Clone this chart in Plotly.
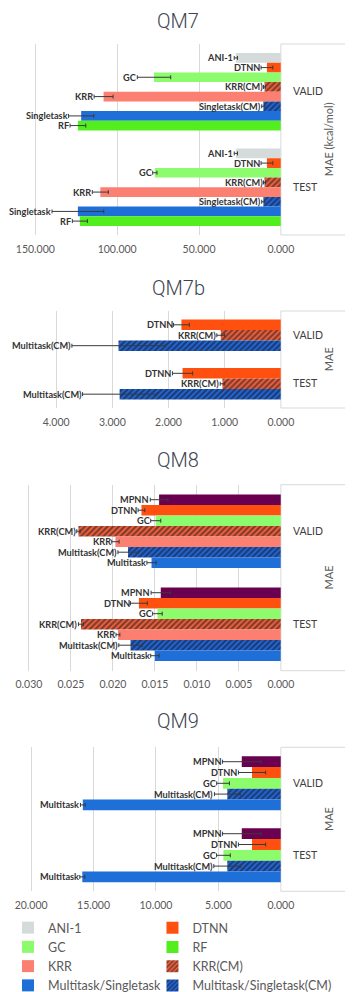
import plotly.graph_objects as go

groups = ["VALID", "TEST"]

# ---------------- data ----------------
qm7_methods = ["ANI-1", "DTNN", "GC", "KRR(CM)", "KRR", "Singletask(CM)", "Singletask", "RF"]
qm7_valid = [27.5, 8.5, 77.5, 10.0, 108.3, 10.7, 122.0, 124.0]
qm7_valid_err = [1.0, 3.6, 10.2, 0.6, 5.8, 1.0, 7.7, 4.8]
qm7_test = [27.5, 8.5, 77.0, 10.0, 110.3, 10.7, 124.0, 122.8]
qm7_test_err = [1.0, 3.6, 1.3, 0.6, 4.9, 1.0, 15.8, 4.6]

qm7b_methods = ["DTNN", "KRR(CM)", "Multitask(CM)"]
qm7b_valid = [1.77, 1.07, 2.89]
qm7b_valid_err = [0.14, 0.07, 0.83]
qm7b_test = [1.75, 1.04, 2.87]
qm7b_test_err = [0.18, 0.04, 0.66]

qm8_methods = ["MPNN", "DTNN", "GC", "KRR(CM)", "KRR", "Multitask(CM)", "Multitask"]
qm8_valid = [0.0145, 0.0166, 0.0149, 0.0241, 0.0197, 0.0182, 0.0154]
qm8_valid_err = [0.00105, 0.0004, 0.0006, 0.0002, 0.00044, 0.0012, 0.00055]
qm8_test = [0.0143, 0.0169, 0.0147, 0.0238, 0.0194, 0.0179, 0.0150]
qm8_test_err = [0.00115, 0.0010, 0.00057, 0.0003, 0.00023, 0.0014, 0.0005]

qm9_methods = ["MPNN", "DTNN", "GC", "Multitask(CM)", "Multitask"]
qm9_valid = [3.13, 2.31, 4.63, 4.29, 15.86]
qm9_valid_err = [1.54, 1.09, 0.51, 1.03, 0.19]
qm9_test = [3.13, 2.31, 4.60, 4.29, 15.90]
qm9_test_err = [1.54, 1.09, 0.55, 1.08, 0.20]

x_tick_vals = {
    "QM7": [0, 50, 100, 150],
    "QM7b": [0, 1, 2, 3, 4],
    "QM8": [0, 0.005, 0.01, 0.015, 0.02, 0.025, 0.03],
    "QM9": [0, 5, 10, 15, 20],
}

# legend, laid out in two columns (left column, right column)
legend_left = ["ANI-1", "GC", "KRR", "Multitask/Singletask"]
legend_right = ["DTNN", "RF", "KRR(CM)", "Multitask/Singletask(CM)"]

# ---------------- styles ----------------
W, H = 353, 992
PLOT_RIGHT = 283.3 / W

style = {
    "ANI-1": ("#d5dbdb", None),
    "DTNN": ("#ff5010", None),
    "GC": ("#8cfb6c", None),
    "RF": ("#52ee1e", None),
    "KRR": ("#fb8072", None),
    "KRR(CM)": ("#f4643e", "/"),
    "Singletask": ("#1f6fd8", None),
    "Multitask": ("#1f6fd8", None),
    "Singletask(CM)": ("#2468d8", "/"),
    "Multitask(CM)": ("#2468d8", "/"),
    "MPNN": ("#690050", None),
}
legend_of = {"ANI-1": "ANI-1", "DTNN": "DTNN", "GC": "GC", "RF": "RF", "KRR": "KRR",
             "KRR(CM)": "KRR(CM)", "Singletask": "Multitask/Singletask",
             "Singletask(CM)": "Multitask/Singletask(CM)"}


def py(px):
    return 1 - px / H


panels = [
    dict(title="QM7", methods=qm7_methods, v=qm7_valid, ve=qm7_valid_err, t=qm7_test,
         te=qm7_test_err, ytitle="MAE (kcal/mol)", xmax=166.7, top=36, bot=227,
         ttl=13, frac=0.81),
    dict(title="QM7b", methods=qm7b_methods, v=qm7b_valid, ve=qm7b_valid_err, t=qm7b_test,
         te=qm7b_test_err, ytitle="MAE", xmax=4.857, top=303, bot=400, ttl=280, frac=0.645),
    dict(title="QM8", methods=qm8_methods, v=qm8_valid, ve=qm8_valid_err, t=qm8_test,
         te=qm8_test_err, ytitle="MAE", xmax=0.03249, top=476.7, bot=662.7, ttl=451.7,
         frac=0.79),
    dict(title="QM9", methods=qm9_methods, v=qm9_valid, ve=qm9_valid_err, t=qm9_test,
         te=qm9_test_err, ytitle="MAE", xmax=21.85, top=739.3, bot=883.3, ttl=713.3,
         frac=0.75),
]

LABEL_FONT = "Lato, 'Open Sans', sans-serif"
fig = go.Figure()
annotations = []
shapes = []
layout_axes = {}

for k, p in enumerate(panels, start=1):
    xa = "x" if k == 1 else f"x{k}"
    ya = "y" if k == 1 else f"y{k}"
    n = len(p["methods"])
    g = p["frac"]
    w = g / n
    for i, m in enumerate(p["methods"]):
        color, shape = style[m]
        marker = dict(color=color, line=dict(width=0))
        if shape:
            marker["pattern"] = dict(shape=shape, fgcolor="#101018", bgcolor=color,
                                     size=4, solidity=0.55)
        show = (k == 1)
        name = legend_of.get(m, m) if show else m
        extra = {}
        if show:
            if name in legend_left:
                extra = dict(legend="legend", legendrank=legend_left.index(name) + 1)
            else:
                extra = dict(legend="legend2", legendrank=legend_right.index(name) + 1)
        off = -g / 2 + i * w
        fig.add_trace(go.Bar(
            y=groups, x=[p["v"][i], p["t"][i]], orientation="h",
            width=w, offset=off, name=name, showlegend=show,
            marker=marker, xaxis=xa, yaxis=ya,
            error_x=dict(type="data", array=[p["ve"][i], p["te"][i]], visible=True,
                         color="#3a3a3a", thickness=1, width=2),
            **extra,
        ))
        for j, (val, err) in enumerate([(p["v"][i], p["ve"][i]), (p["t"][i], p["te"][i])]):
            annotations.append(dict(
                x=val + err, y=j + off + w / 2, xref=xa, yref=ya, text=m,
                showarrow=False, xanchor="right", yanchor="middle", xshift=0,
                borderpad=0,
                font=dict(family=LABEL_FONT, size=9.2, color="#333333", weight="bold"),
            ))
    dom = [py(p["bot"]), py(p["top"])]
    layout_axes["xaxis" if k == 1 else f"xaxis{k}"] = dict(
        domain=[0, PLOT_RIGHT], anchor=ya, range=[p["xmax"], 0],
        tickvals=x_tick_vals[p["title"]], tickformat=".3f",
        showgrid=True, gridcolor="#d9d9d9", gridwidth=1, zeroline=False,
        showline=False, ticks="outside", ticklen=4, tickcolor="rgba(0,0,0,0)",
        tickfont=dict(family=LABEL_FONT, size=10.5, color="#595959"), fixedrange=True,
    )
    layout_axes["yaxis" if k == 1 else f"yaxis{k}"] = dict(
        domain=dom, anchor=xa, side="right", type="category",
        categoryorder="array", categoryarray=groups, range=[1.5, -0.5],
        showgrid=False, zeroline=False, showline=False,
        ticks="outside", ticklen=9, tickcolor="rgba(0,0,0,0)",
        tickfont=dict(family=LABEL_FONT, size=10.5, color="#404040"), fixedrange=True,
    )
    shapes.append(dict(type="rect", xref="paper", yref="paper", x0=PLOT_RIGHT, x1=1.02,
                       y0=dom[0], y1=dom[1], line=dict(color="#d9d9d9", width=1),
                       layer="below"))
    annotations.append(dict(
        x=333 / W, y=(dom[0] + dom[1]) / 2, xref="paper", yref="paper",
        text=p["ytitle"], textangle=-90, showarrow=False,
        xanchor="center", yanchor="middle",
        font=dict(family=LABEL_FONT, size=11, color="#595959"),
    ))
    annotations.append(dict(
        x=0.5, y=py(p["ttl"]), xref="paper", yref="paper", text=p["title"],
        showarrow=False, xanchor="center", yanchor="middle",
        font=dict(family="Roboto, 'DejaVu Sans', sans-serif",
                  size=20, color="#3d4450", weight=300),
    ))

legend_common = dict(orientation="v", y=0, yanchor="bottom", xanchor="left",
                     traceorder="normal", tracegroupgap=0,
                     font=dict(family=LABEL_FONT, size=12.5, color="#595959"),
                     bgcolor="rgba(0,0,0,0)", itemclick=False, itemdoubleclick=False)

fig.update_layout(
    width=W, height=H, margin=dict(l=0, r=0, t=0, b=0),
    paper_bgcolor="white", plot_bgcolor="white",
    barmode="overlay", annotations=annotations, shapes=shapes,
    legend=dict(x=0, **legend_common),
    legend2=dict(x=150 / W, **legend_common),
    hovermode=False,
    **layout_axes,
)

fig.write_html("out.html")
